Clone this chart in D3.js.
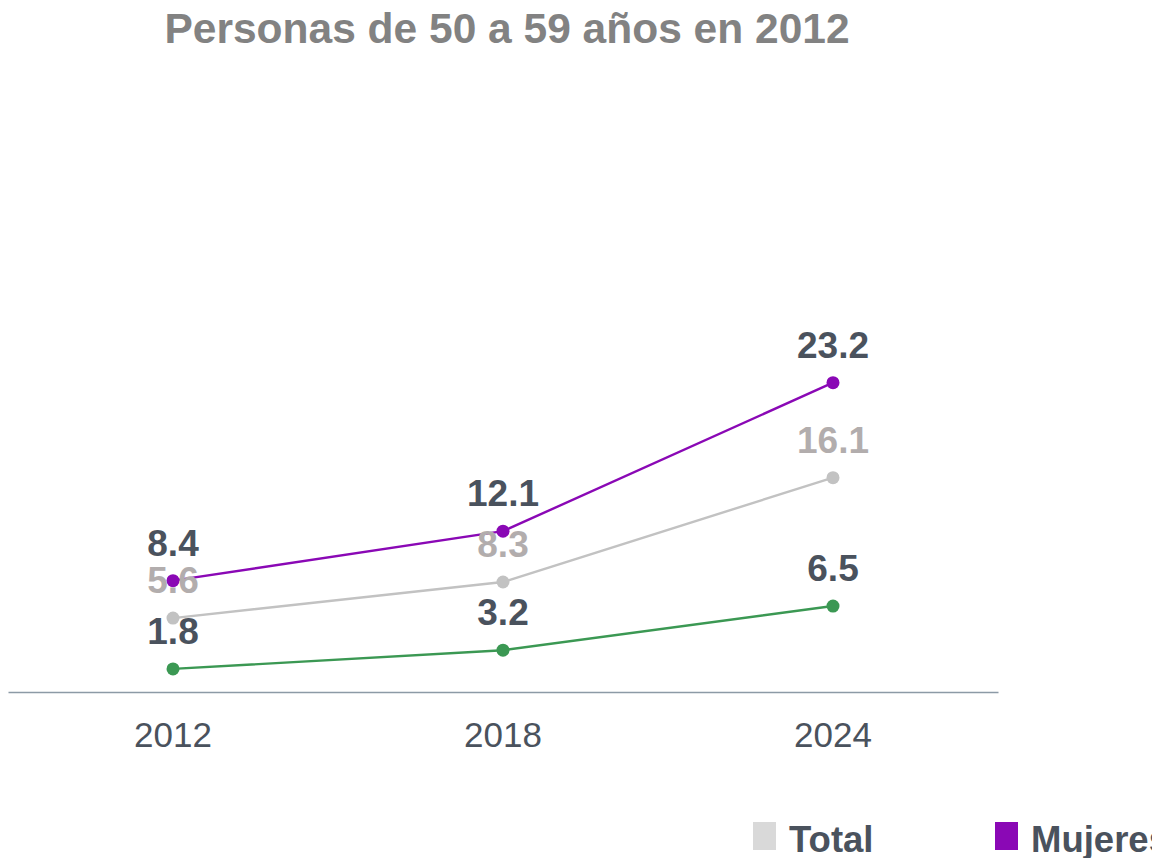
<!DOCTYPE html>
<html>
<head>
<meta charset="utf-8">
<script src="https://cdn.jsdelivr.net/npm/d3@7"></script>
<style>
  body { margin: 0; background: #fff; overflow: hidden; }
  svg { display: block; font-family: "Liberation Sans", Arial, sans-serif; }
</style>
</head>
<body>
<svg id="chart"></svg>
<script>
// data
const years = ['2012', '2018', '2024'];
const seriesNames = ['Total', 'Mujeres', 'Hombres'];
const totalValues = [5.6, 8.3, 16.1];
const mujeresValues = [8.4, 12.1, 23.2];
const hombresValues = [1.8, 3.2, 6.5];

const colors = { Total: '#c2c2c2', Mujeres: '#8a08b5', Hombres: '#3b9853' };
const legendColors = { Total: '#d9d9d9', Mujeres: '#8a08b5', Hombres: '#3b9853' };
const labelColors = { Total: '#b2adad', Mujeres: '#4a525d', Hombres: '#4a525d' };

const width = 1152, height = 858;

const svg = d3.select('#chart')
  .attr('width', width)
  .attr('height', height);

const x = d3.scaleBand()
  .domain(years)
  .range([8, 998])
  .padding(0);

const y = d3.scaleLinear()
  .domain([0, 40])
  .range([693, 158]);

// title
svg.append('text')
  .attr('x', 507)
  .attr('y', 43)
  .attr('text-anchor', 'middle')
  .style('font-size', '42.5px')
  .style('font-weight', 'bold')
  .style('fill', '#828282')
  .text('Personas de 50 a 59 años en 2012');

// x axis
const xAxis = svg.append('g')
  .attr('transform', 'translate(0,692)')
  .call(d3.axisBottom(x).tickSize(0).tickPadding(30));
xAxis.select('.domain').attr('stroke', '#8c9aa6').attr('stroke-width', 1.5);
xAxis.selectAll('text')
  .style('font-size', '35px')
  .style('fill', '#4a525d')
  .style('font-family', '"Liberation Sans", Arial, sans-serif');

const series = [
  { name: 'Total', values: totalValues },
  { name: 'Mujeres', values: mujeresValues },
  { name: 'Hombres', values: hombresValues }
];

const line = d3.line()
  .x((d, i) => x(years[i]) + x.bandwidth() / 2)
  .y(d => y(d));

const g = svg.append('g');

series.forEach(s => {
  g.append('path')
    .datum(s.values)
    .attr('d', line)
    .attr('fill', 'none')
    .attr('stroke', colors[s.name])
    .attr('stroke-width', 2.4);

  g.selectAll('circle.' + s.name)
    .data(s.values)
    .enter()
    .append('circle')
    .attr('class', s.name)
    .attr('cx', (d, i) => x(years[i]) + x.bandwidth() / 2)
    .attr('cy', d => y(d))
    .attr('r', 6.5)
    .attr('fill', colors[s.name]);
});

// labels drawn after all lines so they sit on top
series.forEach(s => {
  g.selectAll('text.' + s.name)
    .data(s.values)
    .enter()
    .append('text')
    .attr('class', s.name)
    .attr('x', (d, i) => x(years[i]) + x.bandwidth() / 2)
    .attr('y', d => y(d) - 25)
    .attr('text-anchor', 'middle')
    .style('font-size', '37px')
    .style('font-weight', 'bold')
    .style('fill', labelColors[s.name])
    .text(d => d.toFixed(1));
});

// legend (runs past the right edge, as in the original)
const legend = svg.append('g')
  .attr('transform', 'translate(753,0)');

const item = legend.selectAll('g')
  .data(seriesNames)
  .enter()
  .append('g')
  .attr('transform', (d, i) => 'translate(' + (i * 242) + ',0)');

item.append('rect')
  .attr('x', 0)
  .attr('y', 822)
  .attr('width', 23)
  .attr('height', 28)
  .attr('fill', d => legendColors[d]);

item.append('text')
  .attr('x', 36)
  .attr('y', 852)
  .style('font-size', '36.5px')
  .style('font-weight', 'bold')
  .style('fill', '#4a525d')
  .text(d => d);
</script>
</body>
</html>
